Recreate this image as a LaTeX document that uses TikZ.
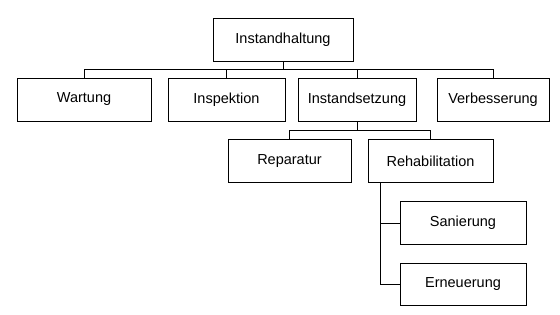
\documentclass[tikz,border=0pt]{standalone}
\usepackage{fontspec}
\setmainfont{Liberation Sans}
\usepackage{tikz}

\begin{document}
\begin{tikzpicture}[x=1pt,y=-1pt,line width=0.8pt,
    box/.style={draw,inner sep=0pt,minimum height=43pt,
      font=\fontsize{14.5}{17}\selectfont}]
  \useasboundingbox (0,0) rectangle (560,315);
  % top level
  \node[box,minimum width=140pt] (instandhaltung) at (283,39.5) {Instandhaltung};
  % second level
  \node[box,minimum width=134pt] (wartung) at (84,99.5) {Wartung};
  \node[box,minimum width=117pt] (inspektion) at (226.5,99.5) {Inspektion};
  \node[box,minimum width=118pt] (instandsetzung) at (357,99.5) {Instandsetzung};
  \node[box,minimum width=112pt] (verbesserung) at (493,99.5) {Verbesserung};
  % third level
  \node[box,minimum width=123pt] (reparatur) at (289.5,161) {Reparatur};
  \node[box,minimum width=125pt] (rehabilitation) at (430.5,161) {Rehabilitation};
  \node[box,minimum width=126pt] (sanierung) at (463,223) {Sanierung};
  \node[box,minimum width=126pt,minimum height=42pt] (erneuerung) at (463,284) {Erneuerung};
  % connectors
  \foreach \child in {wartung,inspektion,instandsetzung,verbesserung}
    \draw (instandhaltung.south) -- ++(0,8) -| (\child.north);
  \foreach \child in {reparatur,rehabilitation}
    \draw (instandsetzung.south) -- ++(0,9) -| (\child.north);
  \foreach \child in {sanierung,erneuerung}
    \draw ([xshift=13pt]rehabilitation.south west) |- (\child.west);
\end{tikzpicture}
\end{document}
